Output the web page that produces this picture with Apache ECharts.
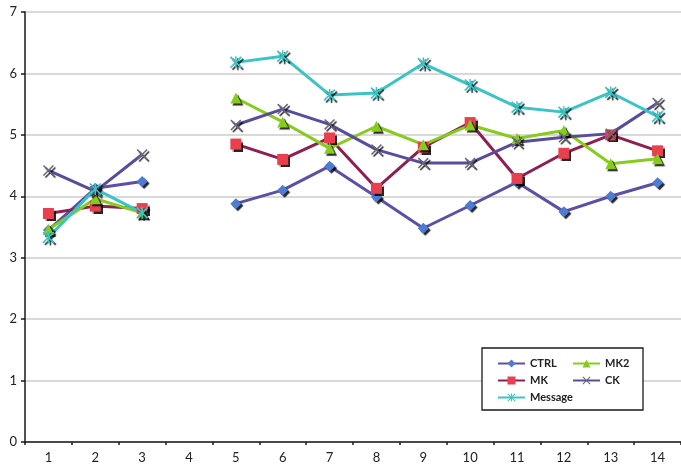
<!DOCTYPE html>
<html>
<head>
<meta charset="utf-8">
<script src="https://cdn.jsdelivr.net/npm/echarts@6/dist/echarts.min.js"></script>
<style>
  html, body { margin: 0; padding: 0; background: #fff; }
  #chart { width: 681px; height: 470px; }
</style>
</head>
<body>
<div id="chart"></div>
<script>
// Categories along the x axis (position 4 has no observations)
const categories = ['1','2','3','4','5','6','7','8','9','10','11','12','13','14'];

// Series values (null = no measurement)
const ctrl    = [3.45, 4.13, 4.24, null, 3.88, 4.10, 4.49, 3.99, 3.48, 3.85, 4.23, 3.75, 4.00, 4.22];
const mk      = [3.72, 3.84, 3.80, null, 4.85, 4.60, 4.95, 4.13, 4.80, 5.20, 4.29, 4.70, 5.00, 4.74];
const mk2     = [3.46, 3.96, 3.73, null, 5.60, 5.21, 4.78, 5.14, 4.84, 5.16, 4.94, 5.07, 4.53, 4.61];
const ck      = [4.42, 4.08, 4.68, null, 5.16, 5.42, 5.17, 4.76, 4.54, 4.54, 4.88, 4.96, 5.02, 5.52];
const message = [3.33, 4.12, 3.73, null, 6.18, 6.28, 5.65, 5.68, 6.16, 5.81, 5.45, 5.37, 5.69, 5.30];

// Y axis range and ticks
const yMin = 0, yMax = 7, yStep = 1;

const FONT = 'Lato, "Open Sans", sans-serif';

// Marker shapes
const X_PATH = 'path://M0,1L1,0L5,4L9,0L10,1L6,5L10,9L9,10L5,6L1,10L0,9L4,5Z';
const STAR_PATH = 'path://M0,1L1,0L4.4,3.4L4.4,0L5.6,0L5.6,3.4L9,0L10,1L6.2,4.8L6.2,5.2L10,9L9,10L5.6,6.6L5.6,10L4.4,10L4.4,6.6L1,10L0,9L3.8,5.2L3.8,4.8Z';

const shadow = {
  shadowColor: 'rgba(0,0,0,0.85)',
  shadowBlur: 1,
  shadowOffsetX: 2,
  shadowOffsetY: 2
};

function lineSeries(name, data, lineColor, markerColor, symbol, size) {
  return {
    name: name,
    type: 'line',
    data: data,
    connectNulls: false,
    symbol: symbol,
    symbolSize: size,
    showAllSymbol: true,
    lineStyle: { color: lineColor, width: 3 },
    itemStyle: Object.assign({ color: markerColor }, shadow),
    emphasis: { disabled: true },
    animation: false
  };
}

const chart = echarts.init(document.getElementById('chart'), null, { renderer: 'canvas' });

const legendText = { color: '#222', fontSize: 11, fontWeight: 'bold', fontFamily: FONT };

chart.setOption({
  backgroundColor: '#ffffff',
  animation: false,
  grid: { left: 25, right: -9, top: 12, bottom: 28, containLabel: false },
  xAxis: {
    type: 'category',
    data: categories,
    boundaryGap: true,
    axisLine: { lineStyle: { color: '#1a1a1a', width: 1.5 } },
    axisTick: { show: true, length: 3, lineStyle: { color: '#1a1a1a', width: 1.5 } },
    axisLabel: { color: '#222', fontSize: 13, fontFamily: FONT, margin: 9 },
    splitLine: { show: false }
  },
  yAxis: {
    type: 'value',
    min: yMin,
    max: yMax,
    interval: yStep,
    axisLine: { show: true, lineStyle: { color: '#1a1a1a', width: 1.5 } },
    axisTick: { show: true, length: 4, lineStyle: { color: '#1a1a1a', width: 1.5 } },
    axisLabel: { color: '#222', fontSize: 13, fontFamily: FONT, margin: 8 },
    splitLine: { show: true, lineStyle: { color: '#cdcdcd', width: 1.5 } }
  },
  graphic: [{
    type: 'rect',
    z: 5,
    shape: { x: 482, y: 348, width: 161, height: 62 },
    style: { fill: '#ffffff', stroke: '#1a1a1a', lineWidth: 1.3 }
  }],
  legend: [
    {
      z: 6,
      left: 497, top: 358, padding: 0,
      orient: 'vertical',
      itemWidth: 27, itemHeight: 10, itemGap: 6,
      data: ['CTRL', 'MK', 'Message'],
      textStyle: legendText
    },
    {
      z: 6,
      left: 572, top: 358, padding: 0,
      orient: 'vertical',
      itemWidth: 27, itemHeight: 10, itemGap: 6,
      data: ['MK2', 'CK'],
      textStyle: legendText
    }
  ],
  series: [
    lineSeries('CTRL', ctrl, '#5b50a6', '#4f7bd0', 'diamond', 11),
    lineSeries('MK', mk, '#8e1f50', '#e8404e', 'rect', 11),
    lineSeries('MK2', mk2, '#86cc1c', '#86cc1c', 'triangle', 11),
    lineSeries('CK', ck, '#5a4c9a', '#6a6a7a', X_PATH, 11),
    lineSeries('Message', message, '#3cc4c4', '#3cc4c4', STAR_PATH, 12)
  ]
});
</script>
</body>
</html>
